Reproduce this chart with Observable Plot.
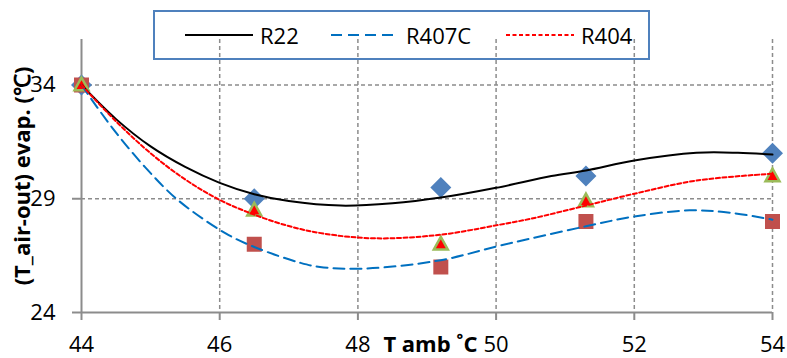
<!DOCTYPE html>
<html>
<head>
<meta charset="utf-8">
<script src="https://cdn.jsdelivr.net/npm/d3@7"></script>
<script src="https://cdn.jsdelivr.net/npm/@observablehq/plot@0.6"></script>
<style>
  html, body { margin: 0; padding: 0; background: #fff; }
  #wrap { position: relative; width: 787px; height: 358px; font-family: "Open Sans", sans-serif; }
  #legend { position: absolute; left: 153px; top: 10px; width: 493px; height: 46px; border: 2px solid #4F81BD; background: transparent; }
  .lg-item { position: absolute; top: 0; height: 46px; display: flex; align-items: center; font-size: 22px; color: #000; }
  .lg-item svg { margin-right: 7px; }
</style>
</head>
<body>
<div id="wrap"></div>
<script>
// Measured markers
const tAmb = [44, 46.5, 49.2, 51.3, 54];
const r22 = [34, 29.0, 29.5, 30.0, 31.0];
const r407c = [34, 27.0, 26.0, 28.0, 28.0];
const r404 = [34, 28.5, 27.0, 28.9, 30.0];

// Trend lines
const r22TrendX = [44, 44.5, 45, 45.5, 46, 46.5, 47.0, 47.75, 48.5, 49.2, 50, 50.8, 51.3, 52, 52.9, 53.5, 54];
const r22TrendY = [34, 32.5, 31.3, 30.4, 29.7, 29.2, 28.9, 28.7, 28.8, 29.05, 29.48, 30.0, 30.24, 30.68, 31.02, 31.02, 30.94];
const r407cTrendX = [44, 44.44, 44.92, 45.4, 46.08, 46.5, 47.17, 47.45, 48.1, 49.2, 50, 50.5, 51.3, 52, 52.8, 53.4, 54];
const r407cTrendY = [34, 32.14, 30.39, 28.93, 27.49, 26.88, 26.18, 26.0, 25.93, 26.3, 26.9, 27.25, 27.79, 28.22, 28.49, 28.38, 28.08];
const r404TrendX = [44, 44.5, 45, 45.5, 46, 46.5, 47, 47.5, 48.25, 49.2, 50, 50.5, 51.3, 52, 52.9, 54];
const r404TrendY = [34, 32.4, 31.0, 29.85, 28.95, 28.3, 27.8, 27.47, 27.26, 27.42, 27.83, 28.12, 28.7, 29.22, 29.8, 30.1];

const xTicks = [44, 46, 48, 50, 52, 54];
const yTicks = [24, 29, 34];
const xGrid = [46, 48, 50, 52, 54];
const yGrid = [29, 34];
const seriesNames = ["R22", "R407C", "R404"];
const yTitle = "(T_air-out) evap. (℃)";
const xTitle = "T amb ˚C";

const pts = (xs, ys) => xs.map((x, i) => ({x, y: ys[i]}));

const diamond = {draw(ctx, size) { const r = Math.sqrt(size / Math.PI); ctx.moveTo(0, -r); ctx.lineTo(r, 0); ctx.lineTo(0, r); ctx.lineTo(-r, 0); ctx.closePath(); }};
const square = {draw(ctx, size) { const r = Math.sqrt(size / Math.PI); ctx.rect(-r, -r, 2 * r, 2 * r); }};
const triangle = {draw(ctx, size) { const r = Math.sqrt(size / Math.PI); ctx.moveTo(0, -r * 1.05); ctx.lineTo(r, r * 0.75); ctx.lineTo(-r, r * 0.75); ctx.closePath(); }};

const gridStyle = {stroke: "#8c8c8c", strokeWidth: 1.5, strokeDasharray: "4,3"};

const chart = Plot.plot({
  width: 787,
  height: 358,
  marginLeft: 81,
  marginRight: 15,
  marginTop: 39,
  marginBottom: 46,
  style: {fontFamily: "Open Sans, sans-serif", fontSize: "22px", background: "white", color: "#000"},
  x: {domain: [44, 54], ticks: xTicks, tickSize: 8, tickPadding: 16, label: null, tickFormat: d => String(d)},
  y: {domain: [24, 36], ticks: yTicks, tickSize: 9, tickPadding: 17, label: null, tickFormat: d => String(d)},
  marks: [
    Plot.ruleX(xGrid, gridStyle),
    Plot.ruleY(yGrid, gridStyle),
    Plot.ruleY([24], {stroke: "#8c8c8c", strokeWidth: 2}),
    Plot.ruleX([44], {stroke: "#8c8c8c", strokeWidth: 2}),
    Plot.dot(pts(tAmb, r22), {x: "x", y: "y", symbol: diamond, r: 10.5, fill: "#4F81BD", stroke: "none"}),
    Plot.dot(pts(tAmb, r407c), {x: "x", y: "y", symbol: square, r: 7.5, fill: "#C0504D", stroke: "none"}),
    Plot.dot(pts(tAmb, r404), {x: "x", y: "y", symbol: triangle, r: 7, fill: "#FF0000", stroke: "#9BBB59", strokeWidth: 2.5}),
    Plot.line(pts(r22TrendX, r22TrendY), {x: "x", y: "y", curve: "catmull-rom", stroke: "#000", strokeWidth: 2}),
    Plot.line(pts(r407cTrendX, r407cTrendY), {x: "x", y: "y", curve: "catmull-rom", stroke: "#0070C0", strokeWidth: 2, strokeDasharray: "11,6"}),
    Plot.line(pts(r404TrendX, r404TrendY), {x: "x", y: "y", curve: "catmull-rom", stroke: "#FF0000", strokeWidth: 2, strokeDasharray: "4,2.5"}),
    Plot.text([xTitle], {x: () => 49.05, frameAnchor: "bottom", dy: 24, lineAnchor: "top", fontWeight: "bold", fontSize: 22, fill: "#000"}),
    Plot.text([yTitle], {frameAnchor: "left", dx: -59, rotate: -90, textAnchor: "middle", lineAnchor: "middle", fontWeight: "bold", fontSize: 22, fill: "#000"})
  ]
});

// style tick marks gray
d3.select(chart).selectAll("g[aria-label$='axis'] line, g[aria-label$='tick'] path")
  .attr("stroke", "#8c8c8c").attr("stroke-width", 2);

const wrap = document.getElementById("wrap");
wrap.appendChild(chart);

// legend overlay
const legend = document.createElement("div");
legend.id = "legend";
wrap.appendChild(legend);
const legendDefs = [
  {name: seriesNames[0], left: 30, color: "#000", dash: null},
  {name: seriesNames[1], left: 176, color: "#0070C0", dash: "11,6"},
  {name: seriesNames[2], left: 351, color: "#FF0000", dash: "4,2.5"}
];
for (const d of legendDefs) {
  const item = document.createElement("div");
  item.className = "lg-item";
  item.style.left = d.left + "px";
  item.innerHTML = `<svg width="68" height="4"><line x1="0" y1="2" x2="68" y2="2" stroke="${d.color}" stroke-width="2" ${d.dash ? `stroke-dasharray="${d.dash}"` : ""}/></svg><span>${d.name}</span>`;
  legend.appendChild(item);
}
</script>
</body>
</html>
